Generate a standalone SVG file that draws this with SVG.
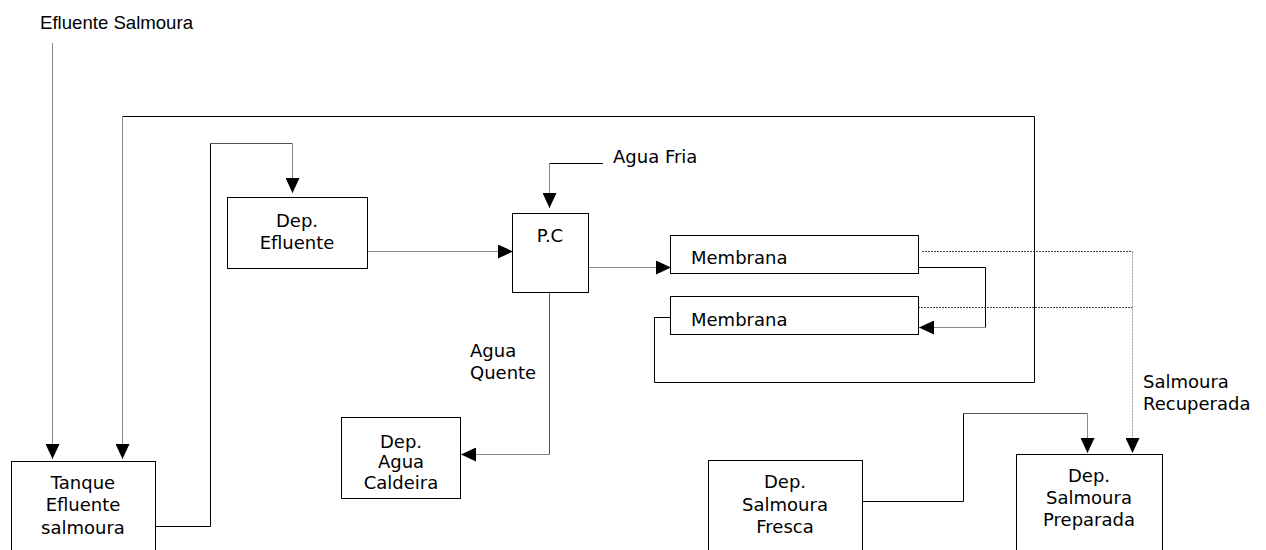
<svg xmlns="http://www.w3.org/2000/svg" width="1266" height="550" viewBox="0 0 1266 550">
  <style>
    .box { fill: #fff; stroke: #000; stroke-width: 1; }
    .lbl { font-family: "DejaVu Sans", Verdana, sans-serif; font-size: 18px; fill: #000; }
    .c { text-anchor: middle; }
    .ln { fill: none; stroke: #000; stroke-width: 1; }
    .gr { fill: none; stroke: #8a8a8a; stroke-width: 1; }
    .dg { fill: none; stroke: #555; stroke-width: 1; }
    .dot { fill: none; stroke: #444; stroke-width: 1; stroke-dasharray: 2 1; }
    .dotg { fill: none; stroke: #999; stroke-width: 1; stroke-dasharray: 2 1; }
  </style>
  <defs>
    <marker id="arr" markerUnits="userSpaceOnUse" markerWidth="15" markerHeight="14" viewBox="0 0 15 14" refX="15" refY="7" orient="auto">
      <path d="M0,0 L15,7 L0,14 Z" fill="#000"/>
    </marker>
  </defs>
  <rect width="1266" height="550" fill="#fff"/>

  <text x="40" y="29" style="font-family: 'Liberation Sans', Arial, sans-serif; font-size: 18.6px;">Efluente Salmoura</text>

  <g id="connectors">
    <!-- inflow to the tank -->
    <path class="gr" d="M52.5,43 V459" marker-end="url(#arr)"/>
    <!-- return loop from lower membrane back to the tank -->
    <path class="ln" d="M671,317.5 H654.5 V382.5 H1034.5 V116.5 H122.5"/>
    <path class="gr" d="M122.5,116.5 V459" marker-end="url(#arr)"/>
    <!-- tank to effluent deposit -->
    <path class="ln" d="M155,526.5 H210.5 V143.5"/>
    <path class="dg" d="M210.5,143.5 H292.5"/>
    <path class="gr" d="M292.5,143.5 V193" marker-end="url(#arr)"/>
    <!-- effluent deposit to P.C -->
    <path class="gr" d="M367,251.5 H513" marker-end="url(#arr)"/>
    <!-- cold water into P.C -->
    <path class="ln" d="M603,163.5 H549.5"/>
    <path class="gr" d="M549.5,163.5 V208" marker-end="url(#arr)"/>
    <!-- P.C to first membrane -->
    <path class="gr" d="M588,267.5 H671" marker-end="url(#arr)"/>
    <!-- hot water to boiler deposit -->
    <path class="dg" d="M549.5,293 V454.5"/>
    <path class="gr" d="M549.5,454.5 H461" marker-end="url(#arr)"/>
    <!-- membrane to membrane -->
    <path class="ln" d="M918,267.5 H985.5 V327.5"/>
    <path class="gr" d="M985.5,327.5 H919" marker-end="url(#arr)"/>
    <!-- recovered brine (dotted) -->
    <path class="dot" d="M922,251.5 H1132.5"/>
    <path class="dot" d="M918,307.5 H1132.5"/>
    <path class="dotg" d="M1132.5,251.5 V453" marker-end="url(#arr)"/>
    <!-- fresh brine to prepared brine -->
    <path class="ln" d="M862,501.5 H963.5 V413.5"/>
    <path class="dg" d="M963.5,413.5 H1087.5"/>
    <path class="gr" d="M1087.5,413.5 V453" marker-end="url(#arr)"/>
  </g>

  <g id="tanque">
    <rect class="box" x="11.5" y="461.5" width="144" height="100"/>
    <text class="lbl c" x="83" y="489">Tanque</text>
    <text class="lbl c" x="83" y="511">Efluente</text>
    <text class="lbl c" x="83" y="534">salmoura</text>
  </g>

  <g id="dep-efluente">
    <rect class="box" x="227.5" y="197.5" width="140" height="71"/>
    <text class="lbl c" x="297" y="227">Dep.</text>
    <text class="lbl c" x="297" y="249">Efluente</text>
  </g>

  <g id="pc">
    <rect class="box" x="512.5" y="213.5" width="76" height="79"/>
    <text class="lbl c" x="550" y="242">P.C</text>
  </g>
  <text class="lbl" x="613" y="163">Agua Fria</text>

  <g id="membrana-1">
    <rect class="box" x="670.5" y="235.5" width="248" height="38"/>
    <text class="lbl" x="691" y="264">Membrana</text>
  </g>

  <g id="membrana-2">
    <rect class="box" x="670.5" y="296.5" width="248" height="38"/>
    <text class="lbl" x="691" y="326">Membrana</text>
  </g>

  <text class="lbl" x="470" y="357">Agua</text>
  <text class="lbl" x="470" y="379">Quente</text>

  <g id="dep-agua-caldeira">
    <rect class="box" x="341.5" y="417.5" width="119" height="81"/>
    <text class="lbl c" x="401" y="448">Dep.</text>
    <text class="lbl c" x="401" y="468">Agua</text>
    <text class="lbl c" x="401" y="489">Caldeira</text>
  </g>

  <text class="lbl" x="1143" y="388">Salmoura</text>
  <text class="lbl" x="1143" y="410">Recuperada</text>

  <g id="dep-salmoura-fresca">
    <rect class="box" x="708.5" y="460.5" width="154" height="100"/>
    <text class="lbl c" x="785" y="488">Dep.</text>
    <text class="lbl c" x="785" y="511">Salmoura</text>
    <text class="lbl c" x="785" y="533">Fresca</text>
  </g>

  <g id="dep-salmoura-preparada">
    <rect class="box" x="1016.5" y="454.5" width="146" height="100"/>
    <text class="lbl c" x="1089" y="482">Dep.</text>
    <text class="lbl c" x="1089" y="504">Salmoura</text>
    <text class="lbl c" x="1089" y="526">Preparada</text>
  </g>
</svg>
